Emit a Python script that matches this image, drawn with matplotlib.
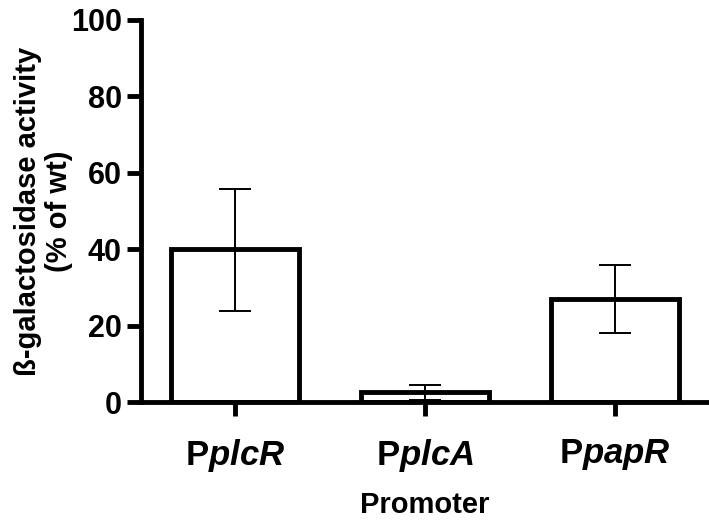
import matplotlib
matplotlib.use("Agg")
import matplotlib.pyplot as plt

categories = ["plcR", "plcA", "papR"]
values = [40.0, 2.6, 27.0]
err_low = [16.2, 2.0, 9.0]
err_high = [15.8, 2.0, 9.0]
yticks = [0, 20, 40, 60, 80, 100]

plt.rcParams['font.family'] = ['Liberation Sans', 'DejaVu Sans']
plt.rcParams['mathtext.fontset'] = 'custom'
plt.rcParams['mathtext.rm'] = 'Liberation Sans:bold'
plt.rcParams['mathtext.bf'] = 'Liberation Sans:bold'
plt.rcParams['mathtext.it'] = 'Liberation Sans:bold:italic'
plt.rcParams['mathtext.bfit'] = 'Liberation Sans:bold:italic'

fig = plt.figure(figsize=(7.09, 5.25), dpi=100)
ax = fig.add_axes([0.199, 0.234, 0.801, 0.728])

x = list(range(len(categories)))
ax.bar(x, values, width=0.67, color='white', edgecolor='black', linewidth=3.5, zorder=2)
ax.errorbar(x, values, yerr=[err_low, err_high], fmt='none', ecolor='black',
            elinewidth=1.4, capsize=11.5, capthick=1.4, zorder=3)

ax.set_xlim(-0.495, 2.495)
ax.set_ylim(0, 100)
ax.set_yticks(yticks)
ax.set_yticklabels([str(t) for t in yticks], fontsize=22, fontweight='bold')
ax.set_xticks(x)
ax.set_xticklabels([r"$\mathbf{P}\mathit{%s}$" % c for c in categories], fontsize=25)
for s in ['top', 'right']:
    ax.spines[s].set_visible(False)
for s in ['left', 'bottom']:
    ax.spines[s].set_linewidth(3.5)
ax.tick_params(axis='both', direction='out', length=10, width=3.5, pad=4)
ax.tick_params(axis='x', pad=15)
ax.set_ylabel("ß-galactosidase activity\n(% of wt)", fontsize=21, fontweight='bold', labelpad=-2, linespacing=1.15)
ax.set_xlabel("Promoter", fontsize=21, fontweight='bold', labelpad=12)

fig.savefig("out.png", dpi=100)
